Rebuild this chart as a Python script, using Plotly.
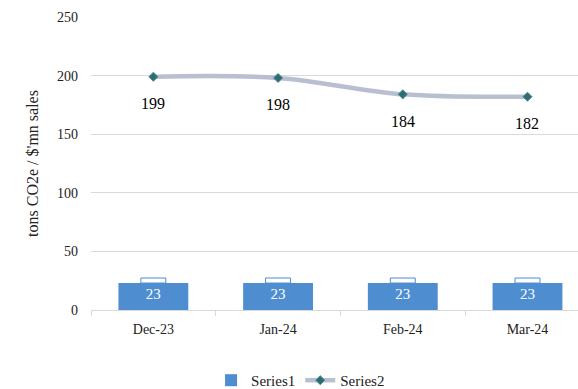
import plotly.graph_objects as go

months = ["Dec-23", "Jan-24", "Feb-24", "Mar-24"]
series1 = [23, 23, 23, 23]
series2 = [199, 198, 184, 182]
y_ticks = [0, 50, 100, 150, 200, 250]

BAR_BLUE = "#4e8dcf"
LINE_GREY = "#b8bfd0"
MARKER_TEAL = "#2a6e73"
GRID = "#d9d9d9"
FONT = "Liberation Serif"

fig = go.Figure()

fig.add_trace(go.Bar(
    x=months, y=series1, name="Series1",
    marker=dict(color=BAR_BLUE, line=dict(width=0)),
    width=0.56,
    text=[str(v) for v in series1], textposition="inside",
    insidetextanchor="end",
    textfont=dict(color="white", size=15, family=FONT),
))

fig.add_trace(go.Scatter(
    x=months, y=series2, name="Series2", mode="lines+markers",
    line=dict(color=LINE_GREY, width=4.5, shape="spline", smoothing=1),
    marker=dict(symbol="diamond", size=7, color=MARKER_TEAL,
                line=dict(color="#5a8a95", width=1)),
))

# value labels under the line points
for m, v in zip(months, series2):
    fig.add_annotation(x=m, y=v, text=str(v), showarrow=False, yshift=-27,
                       font=dict(size=16, color="black", family=FONT))

# small label frames sitting on top of each bar
for i, v in enumerate(series1):
    fig.add_shape(type="rect", xref="x", yref="y",
                  x0=i - 0.1, x1=i + 0.1, y0=v, y1=v + 4.3,
                  fillcolor="white", line=dict(color=BAR_BLUE, width=1),
                  layer="above")

fig.update_layout(
    width=578, height=389,
    margin=dict(l=91, r=0, t=17, b=79),
    paper_bgcolor="white", plot_bgcolor="white",
    font=dict(family=FONT, color="#222222"),
    bargap=0.44,
    legend=dict(orientation="h", xref="container", yref="container",
                x=0.52, xanchor="center", y=0.022, yanchor="middle",
                font=dict(size=15, color="#222222"), traceorder="normal"),
    xaxis=dict(type="category", range=[-0.5, 3.405],
               showgrid=False, showline=True, linecolor=GRID,
               ticks="outside", tickson="boundaries", ticklen=5,
               tickcolor=GRID, ticklabelstandoff=6,
               tickfont=dict(size=14, color="#222222")),
    yaxis=dict(range=[0, 250], tickvals=y_ticks,
               showgrid=True, gridcolor=GRID, zeroline=False,
               showline=False, ticklabelstandoff=12,
               tickfont=dict(size=14, color="#222222"),
               title=dict(text="tons CO2e / $'mn sales", standoff=14,
                          font=dict(size=16, color="#222222"))),
)

fig.write_html("out.html")
